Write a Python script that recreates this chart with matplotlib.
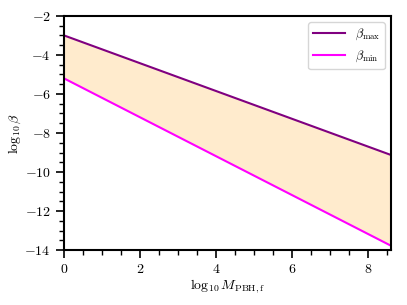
import matplotlib
matplotlib.use("Agg")
import matplotlib.pyplot as plt
import numpy as np
from matplotlib.ticker import MultipleLocator

plt.rcParams['font.family'] = 'serif'
plt.rcParams['font.serif'] = ['cmr10', 'DejaVu Serif']
plt.rcParams['mathtext.fontset'] = 'cm'
plt.rcParams['axes.formatter.use_mathtext'] = True

x = [0.0, 8.6]
beta_max = [-3.0, -9.13]
beta_min = [-5.2, -13.78]

fig = plt.figure(figsize=(4.07, 3.05), dpi=100)
ax = fig.add_axes([0.157, 0.180, 0.804, 0.768])

ax.fill_between(x, beta_min, beta_max, color='#FFEBCD', lw=0)
ax.plot(x, beta_max, color='#800080', lw=1.5, label=r'$\beta_{\rm max}$')
ax.plot(x, beta_min, color='#FF00FF', lw=1.5, label=r'$\beta_{\rm min}$')

ax.set_xlim(0, 8.6)
ax.set_ylim(-14, -2)
ax.xaxis.set_major_locator(MultipleLocator(2))
ax.xaxis.set_minor_locator(MultipleLocator(0.5))
ax.yaxis.set_major_locator(MultipleLocator(2))
ax.yaxis.set_minor_locator(MultipleLocator(0.5))
ax.tick_params(which='major', direction='out', length=6, width=1.2, labelsize=10)
ax.tick_params(which='minor', direction='out', length=3.5, width=1.0)
for s in ax.spines.values():
    s.set_linewidth(1.5)

ax.set_xlabel(r'$\log_{10}M_{\rm PBH,f}$', fontsize=10, labelpad=1)
ax.set_ylabel(r'$\log_{10}\beta$', fontsize=10, labelpad=1)
ax.legend(loc='upper right', fontsize=9, handlelength=2.5)

fig.savefig('out.png', dpi=100)
